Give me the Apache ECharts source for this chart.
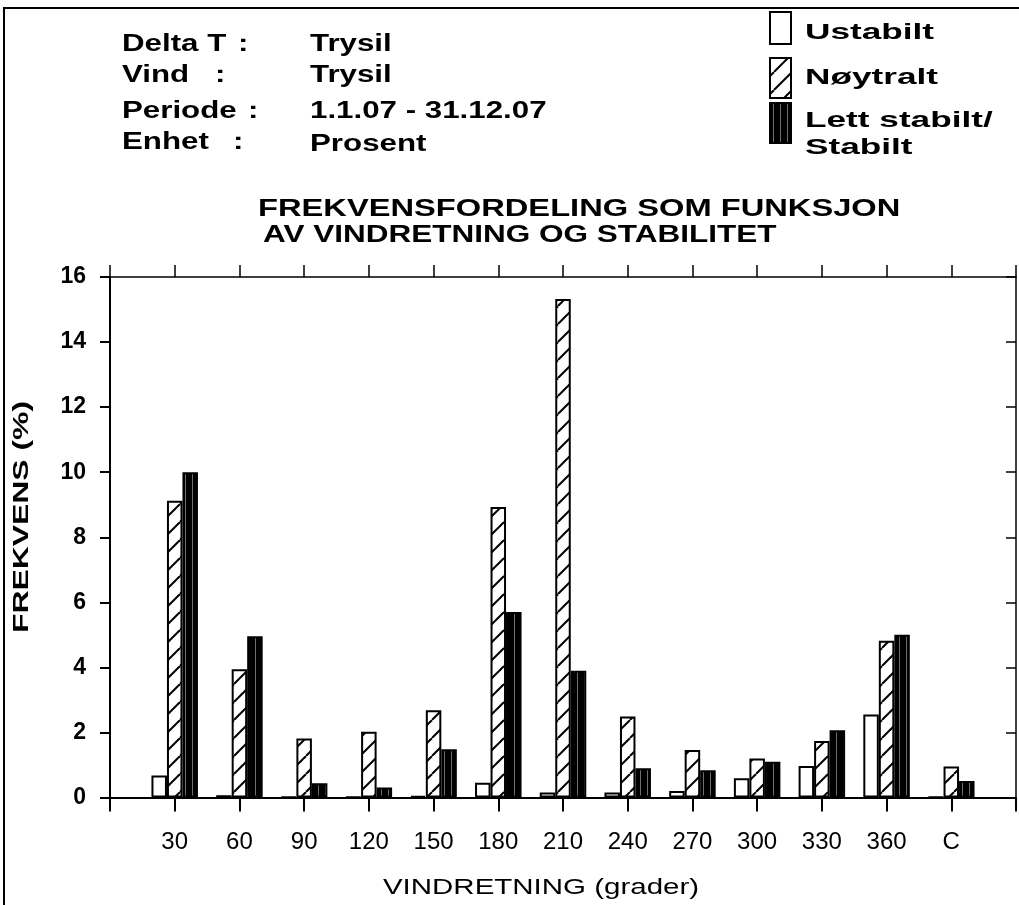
<!DOCTYPE html>
<html>
<head>
<meta charset="utf-8">
<script src="https://cdn.jsdelivr.net/npm/echarts@6/dist/echarts.min.js"></script>
<style>
  html, body { margin: 0; padding: 0; background: #fff; }
  #chart { width: 1019px; height: 905px; }
</style>
</head>
<body>
<div id="chart"></div>
<script>
// Wind direction sectors (degrees) plus calm
const directions = ['30', '60', '90', '120', '150', '180', '210', '240', '270', '300', '330', '360', 'C'];

// Frequency (%) per stability class
const ustabilt = [0.68, 0.07, 0.02, 0.02, 0.04, 0.45, 0.15, 0.15, 0.20, 0.59, 0.97, 2.55, 0.02];
const noytralt = [9.12, 3.94, 1.81, 2.02, 2.68, 8.93, 15.32, 2.49, 1.46, 1.20, 1.74, 4.82, 0.95];
const stabilt  = [10.0, 4.96, 0.44, 0.31, 1.48, 5.70, 3.90, 0.90, 0.84, 1.10, 2.07, 5.00, 0.51];

const seriesNames = ['Ustabilt', 'Nøytralt', 'Lett stabilt/\nStabilt'];

const infoLabels = ['Delta T', 'Vind', 'Periode', 'Enhet'];
const infoValues = ['Trysil', 'Trysil', '1.1.07 - 31.12.07', 'Prosent'];
const titleLines = ['FREKVENSFORDELING SOM FUNKSJON', 'AV VINDRETNING OG STABILITET'];
const xName = 'VINDRETNING (grader)';
const yName = 'FREKVENS (%)';

const FONT = "'Liberation Sans', Arial, Helvetica, sans-serif";

// Fill patterns: diagonal hatching and dense vertical stripes
function hatchCanvas() {
  const s = 18;
  const c = document.createElement('canvas');
  c.width = s; c.height = s;
  const g = c.getContext('2d');
  g.fillStyle = '#fff';
  g.fillRect(0, 0, s, s);
  g.strokeStyle = '#000';
  g.lineWidth = 2;
  for (let k = -1; k <= 1; k++) {
    g.beginPath();
    g.moveTo(k * s, s);
    g.lineTo(k * s + s, 0);
    g.stroke();
  }
  return c;
}
function stripeCanvas() {
  const c = document.createElement('canvas');
  c.width = 7; c.height = 4;
  const g = c.getContext('2d');
  g.fillStyle = '#000';
  g.fillRect(0, 0, 7, 4);
  g.fillStyle = '#6e6e6e';
  g.fillRect(3, 0, 1, 4);
  return c;
}
const fills = [
  '#ffffff',
  { image: hatchCanvas(), repeat: 'repeat' },
  { image: stripeCanvas(), repeat: 'repeat' }
];

const toPoints = arr => arr.map((v, i) => [i + 1, v]);
const values = [ustabilt, noytralt, stabilt];

const chart = echarts.init(document.getElementById('chart'), null, { renderer: 'canvas' });

const graphics = [];
// outer frame
graphics.push({
  type: 'polyline', silent: true,
  shape: { points: [[4, 905], [4, 8], [1019, 8]] },
  style: { stroke: '#000', lineWidth: 2, fill: null }
});
// station info block
const infoY = [45, 76, 112, 143];
const colonX = [238, 215, 248, 233];
infoLabels.forEach((t, i) => {
  const font = `bold 23px ${FONT}`;
  graphics.push({ type: 'text', x: 122, y: infoY[i], scaleX: 1.36,
    style: { text: t, font, fill: '#000', verticalAlign: 'middle' } });
  graphics.push({ type: 'text', x: colonX[i], y: infoY[i], scaleX: 1.36,
    style: { text: ':', font, fill: '#000', verticalAlign: 'middle' } });
  graphics.push({ type: 'text', x: 310, y: infoY[i] + (i === 3 ? 2 : 0), scaleX: 1.36,
    style: { text: infoValues[i], font, fill: '#000', verticalAlign: 'middle' } });
});
// chart title
graphics.push({ type: 'text', x: 258, y: 210, scaleX: 1.42,
  style: { text: titleLines[0], font: `bold 23px ${FONT}`, fill: '#000', verticalAlign: 'middle' } });
graphics.push({ type: 'text', x: 263, y: 236, scaleX: 1.37,
  style: { text: titleLines[1], font: `bold 23px ${FONT}`, fill: '#000', verticalAlign: 'middle' } });
// axis names
graphics.push({ type: 'text', x: 541, y: 888, scaleX: 1.34,
  style: { text: xName, font: `22px ${FONT}`, fill: '#000', align: 'center', verticalAlign: 'middle' } });
graphics.push({ type: 'text', x: 22, y: 517, rotation: Math.PI / 2, scaleX: 1.45,
  style: { text: yName, font: `bold 22px ${FONT}`, fill: '#000', align: 'center', verticalAlign: 'middle' } });
// legend
const legendBoxes = [[12, 32], [58, 40], [103, 40]];
const legendText = [[33], [78], [121, 148]];
seriesNames.forEach((name, i) => {
  graphics.push({ type: 'rect', silent: true,
    shape: { x: 770, y: legendBoxes[i][0], width: 21, height: legendBoxes[i][1] },
    style: { fill: fills[i], stroke: '#000', lineWidth: 2 } });
  name.split('\n').forEach((line, j) => {
    graphics.push({ type: 'text', x: 805, y: legendText[i][j], scaleX: 1.6,
      style: { text: line, font: `bold 22px ${FONT}`, fill: '#000', verticalAlign: 'middle' } });
  });
});

const axisLineStyle = { color: '#000', width: 2 };

chart.setOption({
  animation: false,
  backgroundColor: '#fff',
  grid: { left: 110, right: 3, top: 277, bottom: 107.5, containLabel: false },
  xAxis: [
    {
      type: 'value', position: 'bottom', min: 0, max: 14, interval: 1,
      axisLine: { show: true, onZero: false, lineStyle: axisLineStyle },
      axisTick: { show: true, inside: false, length: 14, lineStyle: axisLineStyle },
      axisLabel: {
        formatter: v => directions[v - 1] || '',
        margin: 33, color: '#000', fontFamily: FONT, fontSize: 24
      },
      splitLine: { show: false }
    },
    {
      type: 'value', position: 'top', min: 0, max: 14, interval: 1,
      axisLine: { show: true, onZero: false, lineStyle: { color: '#000', width: 1.5 } },
      axisTick: { show: true, inside: false, length: 12, lineStyle: { color: '#000', width: 1.5 } },
      axisLabel: { show: false },
      splitLine: { show: false }
    }
  ],
  yAxis: [
    {
      type: 'value', position: 'left', min: 0, max: 16, interval: 2,
      axisLine: { show: true, onZero: false, lineStyle: axisLineStyle },
      axisTick: { show: true, inside: false, length: 10, lineStyle: axisLineStyle },
      axisLabel: { margin: 24, color: '#000', fontFamily: FONT, fontSize: 23, fontWeight: 'bold' },
      splitLine: { show: false }
    },
    {
      type: 'value', position: 'right', min: 0, max: 16, interval: 2,
      axisLine: { show: true, onZero: false, lineStyle: { color: '#000', width: 1.5 } },
      axisTick: { show: true, inside: true, length: 10, lineStyle: { color: '#000', width: 1.5 } },
      axisLabel: { show: false },
      splitLine: { show: false }
    }
  ],
  series: seriesNames.map((name, i) => ({
    name,
    type: 'bar',
    xAxisIndex: 0,
    yAxisIndex: 0,
    data: toPoints(values[i]),
    barWidth: 15.5,
    barGap: '0%',
    itemStyle: { color: fills[i], borderColor: '#000', borderWidth: 2 },
    emphasis: { disabled: true }
  })),
  graphic: graphics
});
</script>
</body>
</html>
